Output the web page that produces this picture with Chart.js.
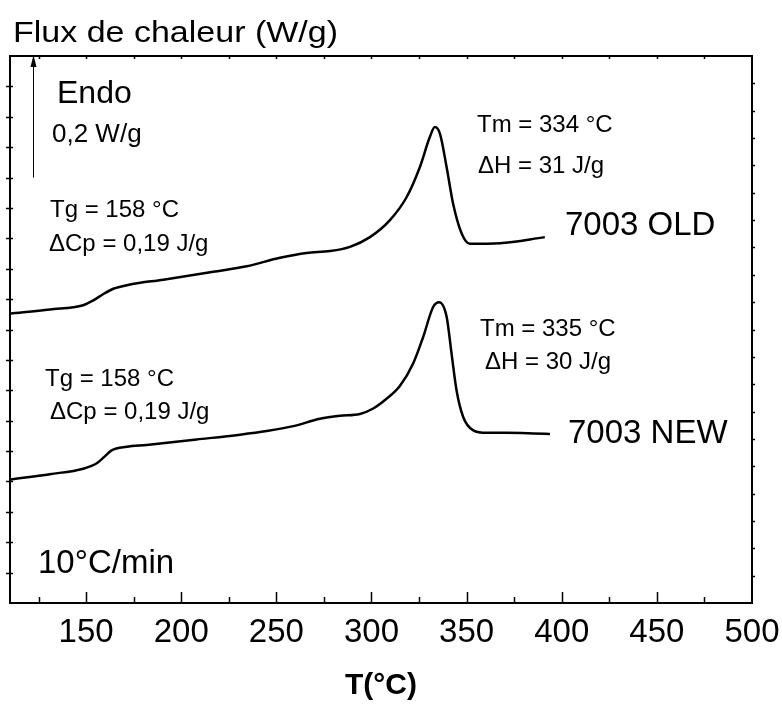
<!DOCTYPE html>
<html>
<head>
<meta charset="utf-8">
<script src="https://cdn.jsdelivr.net/npm/chart.js@4.4.1/dist/chart.umd.min.js"></script>
<style>
  html, body { margin: 0; padding: 0; background: #fff; }
  canvas { display: block; }
</style>
</head>
<body>
<canvas id="c" width="782" height="704"></canvas>
<script>
// ---- data ----
const tempOld = [110, 131, 148.5, 153.8, 158.9, 164.3, 173.1, 190.6, 216.8, 234.4, 251.9, 265.9, 278.2, 288.7, 299.2, 309.7, 318.5, 325.4, 330.7, 333.3, 336.0, 339.5, 342.9, 347.4, 351.7, 367.5, 391.1];
const fluxOld = [0.476, 0.483, 0.490, 0.498, 0.508, 0.517, 0.524, 0.532, 0.545, 0.554, 0.568, 0.576, 0.579, 0.586, 0.602, 0.630, 0.668, 0.717, 0.767, 0.783, 0.772, 0.717, 0.657, 0.608, 0.591, 0.592, 0.602];
const tempNew = [110, 131, 148.5, 155.6, 159.4, 163.4, 171.3, 181.8, 208.1, 230.9, 244.9, 258.9, 272.9, 283.4, 293.9, 300.9, 307.9, 314.9, 321.9, 327.2, 332.4, 335.6, 339.5, 342.1, 344.7, 348.2, 353.5, 360.5, 371.0, 385.0, 393.8];
const fluxNew = [0.203, 0.212, 0.221, 0.230, 0.240, 0.251, 0.257, 0.260, 0.269, 0.277, 0.283, 0.291, 0.303, 0.308, 0.311, 0.320, 0.336, 0.357, 0.394, 0.438, 0.487, 0.495, 0.471, 0.410, 0.350, 0.306, 0.284, 0.280, 0.280, 0.279, 0.278];
const seriesNames = ['7003 OLD', '7003 NEW'];
const xMin = 110, xMax = 500, xMajor = 50, xMinor = 25;
const yMin = 0, yMax = 0.9, yLeftStep = 0.05, yRightDivs = 20;
const arrowFrom = 0.7, arrowTo = 0.9, arrowT = 122;

const FONT = "'Liberation Sans', Arial, Helvetica, sans-serif";

// text annotations (pixel layout)
const notes = [
  { t: 'Flux de chaleur (W/g)', x: 13, y: 42, size: 30, w: 325 },
  { t: 'Endo', x: 57, y: 103, size: 32 },
  { t: '0,2 W/g', x: 52, y: 142, size: 26 },
  { t: 'Tg = 158 °C', x: 50, y: 217, size: 24 },
  { t: 'ΔCp = 0,19 J/g', x: 49, y: 251, size: 24 },
  { t: 'Tm = 334 °C', x: 477, y: 132, size: 24 },
  { t: 'ΔH = 31 J/g', x: 478, y: 173, size: 24 },
  { t: seriesNames[0], x: 565, y: 235, size: 33 },
  { t: 'Tg = 158 °C', x: 45, y: 386, size: 24 },
  { t: 'ΔCp = 0,19 J/g', x: 50, y: 419, size: 24 },
  { t: 'Tm = 335 °C', x: 480, y: 336, size: 24 },
  { t: 'ΔH = 30 J/g', x: 485, y: 369, size: 24 },
  { t: seriesNames[1], x: 568, y: 443, size: 33 },
  { t: '10°C/min', x: 38, y: 573, size: 33 }
];

const toPts = (xs, ys) => xs.map((x, i) => ({ x: x, y: ys[i] }));

const decor = {
  id: 'decor',
  afterDraw(chart) {
    const ctx = chart.ctx, a = chart.chartArea;
    const xs = chart.scales.x, ys = chart.scales.y;
    ctx.save();
    ctx.strokeStyle = '#000';
    ctx.fillStyle = '#000';
    // frame
    ctx.lineWidth = 2;
    ctx.strokeRect(a.left, a.top, a.right - a.left, a.bottom - a.top);
    // bottom & top ticks
    ctx.lineWidth = 1.5;
    for (let t = xMin - (xMin % xMinor) + xMinor; t < xMax; t += xMinor) {
      const px = Math.round(xs.getPixelForValue(t)) + 0.5;
      const len = (t % xMajor === 0) ? 11 : 6;
      ctx.beginPath();
      ctx.moveTo(px, a.bottom);
      ctx.lineTo(px, a.bottom - len);
      ctx.moveTo(px, a.top);
      ctx.lineTo(px, a.top + 3);
      ctx.stroke();
    }
    // left ticks
    for (let v = yMin + yLeftStep; v < yMax - 1e-9; v += yLeftStep) {
      const py = Math.round(ys.getPixelForValue(v)) + 0.5;
      ctx.beginPath();
      ctx.moveTo(a.left - 4, py);
      ctx.lineTo(a.left + 3, py);
      ctx.stroke();
    }
    // right ticks
    for (let i = 1; i < yRightDivs; i++) {
      const v = yMin + (yMax - yMin) * i / yRightDivs;
      const py = Math.round(ys.getPixelForValue(v)) + 0.5;
      ctx.beginPath();
      ctx.moveTo(a.right, py);
      ctx.lineTo(a.right + 3, py);
      ctx.stroke();
    }
    // arrow (0,2 W/g)
    const ax = Math.round(xs.getPixelForValue(arrowT)) + 0.5;
    const ay0 = ys.getPixelForValue(arrowFrom), ay1 = ys.getPixelForValue(arrowTo);
    ctx.lineWidth = 1;
    ctx.beginPath();
    ctx.moveTo(ax, ay0);
    ctx.lineTo(ax, ay1 + 8);
    ctx.stroke();
    ctx.beginPath();
    ctx.moveTo(ax, ay1 - 1);
    ctx.lineTo(ax - 3, ay1 + 11);
    ctx.lineTo(ax + 3, ay1 + 11);
    ctx.closePath();
    ctx.fill();
    // texts
    ctx.textBaseline = 'alphabetic';
    ctx.textAlign = 'left';
    for (const n of notes) {
      ctx.font = n.size + 'px ' + FONT;
      if (n.w) {
        const m = ctx.measureText(n.t).width;
        ctx.save();
        ctx.translate(n.x, n.y);
        ctx.scale(n.w / m, 1);
        ctx.fillText(n.t, 0, 0);
        ctx.restore();
      } else {
        ctx.fillText(n.t, n.x, n.y);
      }
    }
    ctx.restore();
  }
};

new Chart(document.getElementById('c'), {
  type: 'line',
  data: {
    datasets: [
      { label: seriesNames[0], data: toPts(tempOld, fluxOld) },
      { label: seriesNames[1], data: toPts(tempNew, fluxNew) }
    ]
  },
  options: {
    responsive: false,
    animation: false,
    devicePixelRatio: 1,
    layout: { padding: { left: 10, right: 30, top: 56, bottom: 0 } },
    elements: {
      line: { borderColor: '#000', borderWidth: 2.5, cubicInterpolationMode: 'monotone', fill: false },
      point: { radius: 0, hoverRadius: 0 }
    },
    plugins: { legend: { display: false }, tooltip: { enabled: false } },
    scales: {
      x: {
        type: 'linear',
        min: xMin, max: xMax,
        grid: { display: false, drawTicks: false },
        border: { display: false },
        ticks: {
          stepSize: xMinor,
          autoSkip: false,
          maxRotation: 0,
          padding: 10,
          color: '#000',
          font: { family: FONT, size: 33 },
          callback: (v) => (v % xMajor === 0 ? String(v) : '')
        },
        title: {
          display: true,
          text: 'T(°C)',
          color: '#000',
          font: { family: FONT, size: 30, weight: 'bold' },
          padding: { top: 0, bottom: 0 }
        },
        afterFit: (s) => { s.height = 101; s.paddingLeft = 0; s.paddingRight = 0; }
      },
      y: {
        min: yMin, max: yMax,
        display: false
      }
    }
  },
  plugins: [decor]
});
</script>
</body>
</html>
